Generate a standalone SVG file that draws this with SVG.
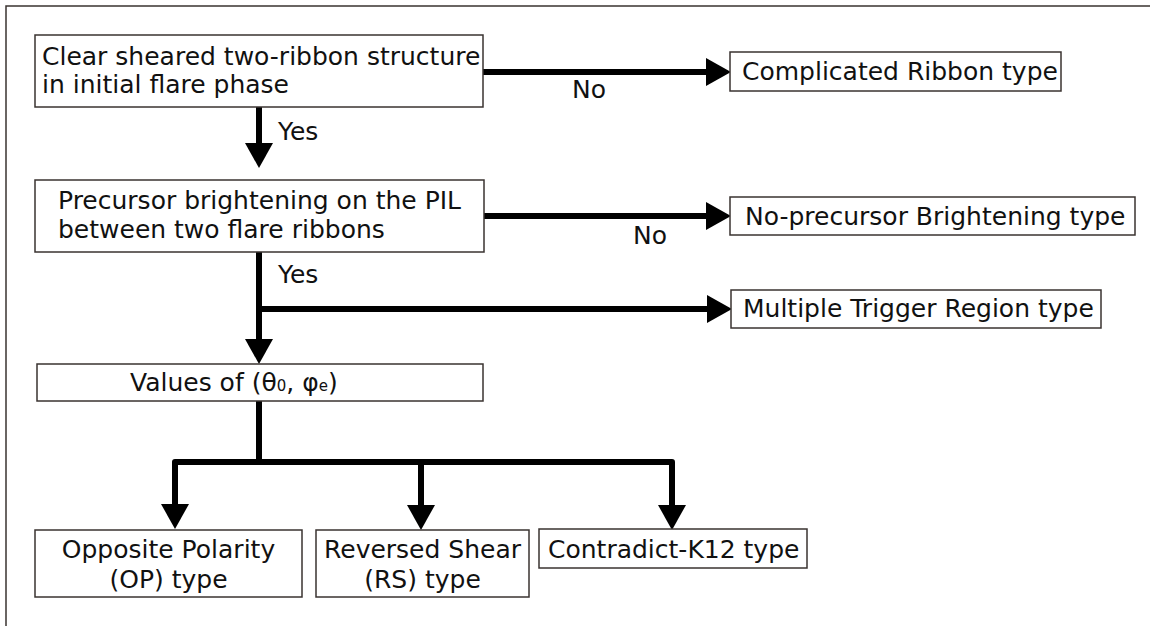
<svg xmlns="http://www.w3.org/2000/svg" width="1150" height="626" viewBox="0 0 1150 626">
<style>
.box{fill:#fff;stroke:#3a3330;stroke-width:1.5}
.t{font-family:"DejaVu Sans","Liberation Sans",sans-serif;font-size:25px;fill:#111}
.c{text-anchor:middle}
.ln{fill:none;stroke:#000;stroke-width:6;stroke-linejoin:round}
</style>
<defs>
<marker id="ah" markerUnits="userSpaceOnUse" markerWidth="25" markerHeight="28" refX="0" refY="14" orient="auto" overflow="visible">
<path d="M0,0 L25,14 L0,28 Z" fill="#000"/>
</marker>
</defs>
<rect width="1150" height="626" fill="#fff"/>
<path d="M6,626 V6 H1150" fill="none" stroke="#3a3330" stroke-width="1.5"/>

<g id="connectors">
<path class="ln" d="M483,72 H706" marker-end="url(#ah)"/>
<path class="ln" d="M259,107 V143" marker-end="url(#ah)"/>
<path class="ln" d="M484,216 H706" marker-end="url(#ah)"/>
<path class="ln" d="M259,252 V339" marker-end="url(#ah)"/>
<path class="ln" d="M259,309 H707" marker-end="url(#ah)"/>
<path class="ln" d="M259,401 V462"/>
<path class="ln" d="M259,462 H175 V504" marker-end="url(#ah)"/>
<path class="ln" d="M259,462 H672 V505" marker-end="url(#ah)"/>
<path class="ln" d="M421,462 V505" marker-end="url(#ah)"/>
<text class="t" x="278" y="140">Yes</text>
<text class="t" x="572" y="98">No</text>
<text class="t" x="633" y="244">No</text>
<text class="t" x="278" y="283">Yes</text>
</g>

<g id="n1">
<rect class="box" x="35" y="35" width="448" height="72"/>
<text class="t" x="42" y="65">Clear sheared two-ribbon structure</text>
<text class="t" x="42" y="93">in initial flare phase</text>
</g>

<g id="n2">
<rect class="box" x="35" y="180" width="449" height="72"/>
<text class="t" x="58" y="209">Precursor brightening on the PIL</text>
<text class="t" x="58" y="238">between two flare ribbons</text>
</g>

<g id="n3">
<rect class="box" x="730" y="52" width="331" height="39"/>
<text class="t" x="742" y="80">Complicated Ribbon type</text>
</g>

<g id="n4">
<rect class="box" x="730" y="197" width="405" height="38"/>
<text class="t" x="745" y="225">No-precursor Brightening type</text>
</g>

<g id="n5">
<rect class="box" x="731" y="290" width="370" height="38"/>
<text class="t" x="743" y="317">Multiple Trigger Region type</text>
</g>

<g id="n6">
<rect class="box" x="37" y="364" width="446" height="37"/>
<text class="t" x="130" y="391">Values of (θ<tspan font-size="15">0</tspan>, φ<tspan font-size="15">e</tspan>)</text>
</g>

<g id="n7">
<rect class="box" x="35" y="530" width="267" height="67"/>
<text class="t c" x="168.5" y="558">Opposite Polarity</text>
<text class="t c" x="168.5" y="588">(OP) type</text>
</g>

<g id="n8">
<rect class="box" x="316" y="530" width="213" height="67"/>
<text class="t c" x="422.5" y="558">Reversed Shear</text>
<text class="t c" x="422.5" y="588">(RS) type</text>
</g>

<g id="n9">
<rect class="box" x="539" y="529" width="268" height="39"/>
<text class="t" x="548" y="558">Contradict-K12 type</text>
</g>
</svg>
